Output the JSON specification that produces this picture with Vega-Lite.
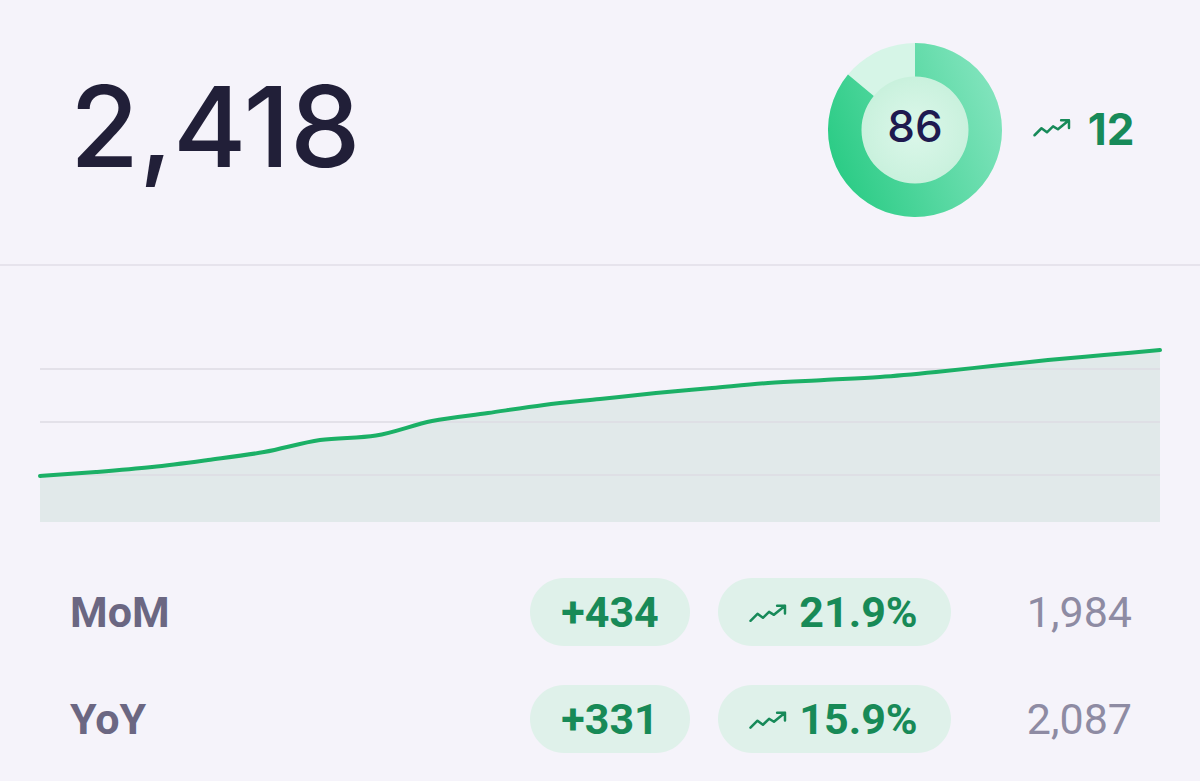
{
  "$schema": "https://vega.github.io/schema/vega-lite/v6.json",
  "background": "#f5f3fa",
  "padding": 0,
  "spacing": 0,
  "config": {"view": {"stroke": null}, "concat": {"spacing": 0}, "font": "Roboto"},
  "datasets": {
    "kpi": [{"total": 2418, "score": 86, "max": 100, "delta": 12}],
    "trend": [
      {"day": 0, "count": 647}, {"day": 1, "count": 703}, {"day": 2, "count": 773},
      {"day": 3, "count": 872}, {"day": 4, "count": 984}, {"day": 5, "count": 1153},
      {"day": 6, "count": 1216}, {"day": 7, "count": 1420}, {"day": 8, "count": 1533},
      {"day": 9, "count": 1645}, {"day": 10, "count": 1730}, {"day": 11, "count": 1814},
      {"day": 12, "count": 1884}, {"day": 13, "count": 1955}, {"day": 14, "count": 1997},
      {"day": 15, "count": 2039}, {"day": 16, "count": 2109}, {"day": 17, "count": 2194},
      {"day": 18, "count": 2278}, {"day": 19, "count": 2348}, {"day": 20, "count": 2418}
    ],
    "grid": [{"level": 661}, {"level": 1406}, {"level": 2152}],
    "compare": [
      {"metric": "MoM", "change": 434, "pct": 0.219, "prior": 1984},
      {"metric": "YoY", "change": 331, "pct": 0.159, "prior": 2087}
    ]
  },
  "vconcat": [
    {
      "hconcat": [
        {
          "width": 140, "height": 260,
          "data": {"name": "kpi"},
          "mark": {"type": "text", "align": "left", "baseline": "middle", "font": "Inter", "fontSize": 112, "fontWeight": 500, "color": "#211f38", "dy": 3},
          "encoding": {"text": {"field": "total", "type": "quantitative", "format": ",d"}}
        },
        {"width": 687, "height": 260, "data": {"values": []}, "mark": "point", "encoding": {}},
        {
          "width": 176, "height": 260,
          "data": {"name": "kpi"},
          "layer": [
            {
              "mark": {"type": "arc", "outerRadius": 87, "innerRadius": 0, "color": "#d6f5e7"},
              "encoding": {"theta": {"field": "max", "type": "quantitative", "scale": {"domain": [0, 100]}}}
            },
            {
              "mark": {"type": "arc", "outerRadius": 87, "innerRadius": 50,
                "color": {"gradient": "linear", "x1": 1, "y1": 0.2, "x2": 0, "y2": 0.6,
                  "stops": [{"offset": 0, "color": "#86e5c0"}, {"offset": 1, "color": "#2ccc86"}]}},
              "encoding": {"theta": {"field": "score", "type": "quantitative", "scale": {"domain": [0, 100]}}}
            },
            {
              "mark": {"type": "arc", "outerRadius": 53.5, "innerRadius": 0,
                "color": {"gradient": "radial", "x1": 0.5, "y1": 0.5, "r1": 0, "x2": 0.5, "y2": 0.5, "r2": 0.5,
                  "stops": [{"offset": 0, "color": "#dcf7ea"}, {"offset": 1, "color": "#c9f1dd"}]}},
              "encoding": {"theta": {"field": "max", "type": "quantitative", "scale": {"domain": [0, 100]}}}
            },
            {
              "mark": {"type": "text", "baseline": "middle", "font": "Inter", "fontSize": 44, "fontWeight": 500, "color": "#1e1a4f", "dy": -1},
              "encoding": {"text": {"field": "score", "type": "quantitative"}}
            }
          ]
        },
        {
          "width": 98, "height": 260,
          "data": {"name": "kpi"},
          "mark": {"type": "point", "shape": "M-1,0.3 L-0.6,-0.1 L-0.29,0.13 L0.06,-0.21 L0.34,-0.04 L0.97,-0.56 M0.52,-0.56 L0.97,-0.56 L0.97,-0.11",
            "size": 1225, "filled": false, "stroke": "#178a59", "strokeWidth": 2.5, "opacity": 1, "strokeCap": "round", "strokeJoin": "round"},
          "encoding": {}
        },
        {
          "width": 20, "height": 260,
          "data": {"name": "kpi"},
          "mark": {"type": "text", "baseline": "middle", "font": "Inter", "fontSize": 44, "fontWeight": 700, "color": "#178a59", "dy": 2},
          "encoding": {"text": {"field": "delta", "type": "quantitative"}}
        },
        {"width": 79, "height": 260, "data": {"values": []}, "mark": "point", "encoding": {}}
      ],
      "spacing": 0,
      "bounds": "flush"
    },
    {"width": 1200, "height": 4, "data": {"values": []}, "mark": "point", "encoding": {}},
    {"width": 1200, "height": 2, "view": {"fill": "#e6e3ec", "stroke": null}, "data": {"values": []}, "mark": "point", "encoding": {}},
    {
      "width": 1200, "height": 284,
      "layer": [
        {
          "data": {"name": "trend"},
          "mark": {"type": "area", "color": "#e1e9ea", "interpolate": "monotone"},
          "encoding": {
            "x": {"field": "day", "type": "quantitative", "scale": {"domain": [0, 20], "range": [40, 1160], "nice": false}, "axis": null},
            "y": {"field": "count", "type": "quantitative", "scale": {"domain": [0, 3600], "range": [256, 0], "nice": false}, "axis": null}
          }
        },
        {
          "data": {"name": "grid"},
          "mark": {"type": "rule", "color": "#dcdbe3", "strokeWidth": 1.5},
          "encoding": {
            "y": {"field": "level", "type": "quantitative", "axis": null},
            "x": {"datum": 0, "type": "quantitative", "axis": null},
            "x2": {"datum": 20}
          }
        },
        {
          "data": {"name": "trend"},
          "mark": {"type": "line", "color": "#1bb066", "strokeWidth": 4, "interpolate": "monotone", "strokeCap": "round"},
          "encoding": {
            "x": {"field": "day", "type": "quantitative", "axis": null},
            "y": {"field": "count", "type": "quantitative", "axis": null}
          }
        }
      ]
    },
    {
      "hconcat": [
        {
          "width": 140, "height": 231,
          "data": {"name": "compare"},
          "mark": {"type": "text", "align": "left", "baseline": "middle", "font": "Roboto", "fontSize": 43, "fontWeight": 700, "color": "#6b6782", "dy": 2},
          "encoding": {
            "y": {"field": "metric", "type": "nominal", "scale": {"type": "band", "domain": ["MoM", "YoY"], "paddingInner": 0.364, "paddingOuter": 0.262}, "axis": null},
            "text": {"field": "metric", "type": "nominal"}
          }
        },
        {"width": 390, "height": 231, "data": {"values": []}, "mark": "point", "encoding": {}},
        {
          "width": 160, "height": 231,
          "data": {"name": "compare"},
          "encoding": {
            "y": {"field": "metric", "type": "nominal", "scale": {"type": "band", "domain": ["MoM", "YoY"], "paddingInner": 0.364, "paddingOuter": 0.262}, "axis": null}
          },
          "layer": [
            {"mark": {"type": "rect", "color": "#dff1ea", "cornerRadius": 34}},
            {
              "mark": {"type": "text", "baseline": "middle", "font": "Roboto", "fontSize": 43, "fontWeight": 700, "color": "#188a57", "dy": 2},
              "encoding": {"text": {"field": "change", "type": "quantitative", "format": "+d"}}
            }
          ]
        },
        {"width": 28, "height": 231, "data": {"values": []}, "mark": "point", "encoding": {}},
        {
          "width": 233, "height": 231,
          "data": {"name": "compare"},
          "encoding": {
            "y": {"field": "metric", "type": "nominal", "scale": {"type": "band", "domain": ["MoM", "YoY"], "paddingInner": 0.364, "paddingOuter": 0.262}, "axis": null}
          },
          "layer": [
            {"mark": {"type": "rect", "color": "#dff1ea", "cornerRadius": 34}},
            {
              "mark": {"type": "point", "shape": "M-4.8,0.5 L-4.4,0.1 L-4.09,0.33 L-3.74,-0.01 L-3.46,0.16 L-2.83,-0.36 M-3.28,-0.36 L-2.83,-0.36 L-2.83,0.09",
                "size": 1225, "filled": false, "stroke": "#178a59", "strokeWidth": 2.5, "opacity": 1, "strokeCap": "round", "strokeJoin": "round"}
            },
            {
              "mark": {"type": "text", "baseline": "middle", "font": "Roboto", "fontSize": 43, "fontWeight": 700, "color": "#188a57", "dy": 2, "dx": 24},
              "encoding": {"text": {"field": "pct", "type": "quantitative", "format": ".1%"}}
            }
          ]
        },
        {"width": 113, "height": 231, "data": {"values": []}, "mark": "point", "encoding": {}},
        {
          "width": 136, "height": 231,
          "data": {"name": "compare"},
          "mark": {"type": "text", "align": "right", "baseline": "middle", "font": "Roboto", "fontSize": 43, "fontWeight": 400, "color": "#8e8ba3", "dy": 2},
          "encoding": {
            "y": {"field": "metric", "type": "nominal", "scale": {"type": "band", "domain": ["MoM", "YoY"], "paddingInner": 0.364, "paddingOuter": 0.262}, "axis": null},
            "text": {"field": "prior", "type": "quantitative", "format": ",d"}
          }
        }
      ],
      "spacing": 0,
      "bounds": "flush"
    }
  ]
}
